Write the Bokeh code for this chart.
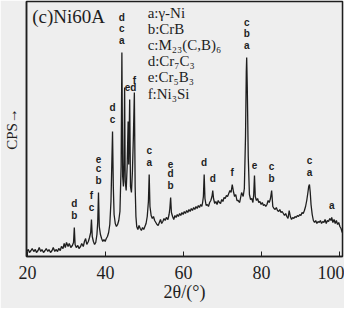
from bokeh.plotting import figure
from bokeh.models import Range1d, FixedTicker
from bokeh.core.properties import value
from bokeh.embed import file_html
from bokeh.resources import INLINE

# ---- data (2theta in degrees, intensity in arbitrary CPS units) ----
two_theta = [
    19.8, 20.2, 20.5, 20.9, 21.2, 21.6, 22.0, 22.3, 22.7, 23.0, 23.4, 23.7, 24.1, 24.5, 24.8,
    25.2, 25.5, 25.9, 26.3, 26.6, 27.0, 27.3, 27.7, 28.0, 28.4, 28.7, 29.1, 29.4, 29.7, 30.0,
    30.4, 30.7, 31.1, 31.5, 31.8, 32.0, 32.2, 32.5, 32.9, 33.2, 33.6, 33.9, 34.3, 34.6, 34.9,
    35.2, 35.6, 35.9, 36.2, 36.4, 36.6, 36.9, 37.2, 37.5, 37.8, 38.0, 38.2, 38.4, 38.7, 39.0,
    39.3, 39.6, 39.9, 40.2, 40.5, 40.8, 41.1, 41.4, 41.6, 41.8, 42.0, 42.2, 42.5, 42.8, 43.1,
    43.4, 43.7, 44.0, 44.2, 44.4, 44.6, 44.75, 44.9, 45.05, 45.3, 45.55, 45.8, 45.95, 46.2, 46.4,
    46.65, 46.9, 47.15, 47.4, 47.6, 47.8, 48.0, 48.3, 48.6, 48.9, 49.2, 49.5, 49.8, 50.1, 50.4,
    50.7, 51.0, 51.2, 51.4, 51.7, 52.0, 52.3, 52.6, 52.9, 53.2, 53.5, 53.8, 54.1, 54.4, 54.7,
    55.0, 55.3, 55.6, 56.0, 56.3, 56.5, 56.7, 56.9, 57.2, 57.5, 57.8, 58.1, 58.4, 58.7, 59.0,
    59.3, 59.6, 59.9, 60.2, 60.5, 60.8, 61.1, 61.4, 61.7, 62.0, 62.3, 62.6, 62.9, 63.2, 63.5,
    63.8, 64.1, 64.4, 64.7, 64.9, 65.1, 65.3, 65.5, 65.8, 66.1, 66.4, 66.7, 67.0, 67.3, 67.5,
    67.7, 68.0, 68.3, 68.6, 68.9, 69.2, 69.5, 69.8, 70.1, 70.4, 70.7, 71.0, 71.3, 71.6, 71.9,
    72.2, 72.5, 72.8, 73.1, 73.4, 73.7, 74.0, 74.4, 74.9, 75.3, 75.6, 75.9, 76.1, 76.2, 76.35,
    76.6, 76.9, 77.2, 77.5, 77.8, 78.0, 78.2, 78.4, 78.7, 79.0, 79.3, 79.6, 79.9, 80.2, 80.5,
    80.8, 81.1, 81.4, 81.7, 82.0, 82.3, 82.6, 82.9, 83.2, 83.5, 83.8, 84.1, 84.4, 84.7, 85.0,
    85.3, 85.6, 85.9, 86.2, 86.5, 86.8, 87.1, 87.4, 87.7, 88.0, 88.3, 88.6, 88.9, 89.2, 89.5,
    89.8, 90.1, 90.4, 90.7, 91.0, 91.3, 91.6, 91.9, 92.1, 92.3, 92.5, 92.7, 93.0, 93.3, 93.6,
    93.9, 94.2, 94.5, 94.8, 95.1, 95.4, 95.7, 96.0, 96.3, 96.6, 96.9, 97.2, 97.5, 97.8, 98.0,
    98.3, 98.6, 98.9, 99.2, 99.5, 99.8, 100.1, 100.4, 100.7,
]
intensity = [
    5, 7, 4, 6, 8, 5, 7, 4, 6, 9, 5, 7, 4, 6, 8,
    5, 7, 4, 6, 9, 5, 7, 5, 8, 6, 10, 8, 13, 9, 14,
    10, 13, 9, 11, 14, 29, 12, 9, 11, 8, 10, 13, 10, 15, 18,
    12, 15, 19, 24, 37, 20, 15, 12, 14, 22, 34, 64, 30, 22, 18,
    15, 17, 15, 18, 20, 24, 32, 55, 90, 125, 70, 42, 33, 30, 32,
    36, 45, 90, 204, 80, 70, 95, 169, 75, 66, 90, 135, 92, 157, 70,
    64, 85, 120, 164, 70, 40, 30, 27, 31, 28, 26, 29, 27, 30, 33,
    40, 55, 82, 50, 41, 38, 40, 36, 34, 32, 31, 34, 37, 33, 35,
    38, 36, 39, 37, 42, 48, 59, 44, 40, 37, 41, 39, 42, 40, 43,
    41, 44, 42, 45, 43, 46, 44, 47, 45, 48, 46, 49, 47, 50, 48,
    51, 49, 52, 50, 54, 60, 82, 58, 51, 52, 50, 54, 56, 60, 66,
    58, 53, 55, 52, 56, 54, 53, 57, 55, 59, 58, 61, 60, 63, 66,
    64, 72, 65, 60, 62, 56, 56, 54, 64, 60, 68, 120, 185, 199, 170,
    100, 62, 57, 58, 54, 62, 81, 60, 56, 58, 54, 55, 52, 54, 51,
    52, 50, 52, 56, 54, 58, 66, 50, 48, 47, 49, 46, 45, 47, 44,
    45, 43, 41, 43, 40, 38, 46, 40, 37, 39, 38, 40, 39, 41, 40,
    42, 41, 44, 43, 46, 50, 56, 64, 70, 72, 64, 52, 42, 36, 34,
    36, 33, 35, 34, 36, 33, 35, 34, 37, 33, 36, 35, 38, 36, 39,
    34, 37, 33, 36, 32, 34, 30, 28, 24,
]

# peak identifications (phase letters, listed top to bottom)
peak_positions = [32.0, 36.4, 38.2, 41.8, 44.2, 46.2, 47.4, 51.2, 56.7, 65.3,
                  67.5, 72.5, 76.2, 78.2, 82.6, 92.3, 98.0]
peak_letters = [["d", "b"], ["f", "c"], ["e", "c", "b"], ["d", "c"], ["d", "c", "a"],
                ["ed"], ["f"], ["c", "a"], ["e", "d", "b"], ["d"],
                ["d"], ["f"], ["c", "b", "a"], ["e"], ["c", "b"], ["c", "a"], ["a"]]

legend_entries = ["a:γ-Ni", "b:CrB", "c:M₂₃(C,B)₆", "d:Cr₇C₃", "e:Cr₅B₃", "f:Ni₃Si"]
panel_title = "(c)Ni60A"
x_ticks = [20, 40, 60, 80, 100]
x_title = "2θ/(°)"
y_title = "CPS→"

# ---- figure ----
BG = "#eeeeee"
INK = "#1e1e1e"
SERIF = "Liberation Serif"

p = figure(width=344, height=308, output_backend="svg", toolbar_location=None,
           x_range=Range1d(19.74, 100.77), y_range=Range1d(0, 255),
           min_border_left=26, min_border_right=2, min_border_top=1, min_border_bottom=52)
p.background_fill_color = BG
p.border_fill_color = BG
p.outline_line_color = INK
p.outline_line_width = 1.5
p.grid.visible = False

p.line(two_theta, intensity, line_color=INK, line_width=1.3)

# peak letters
lx, ly, lt = [], [], []
for pos, letters in zip(peak_positions, peak_letters):
    top = max(v for t, v in zip(two_theta, intensity) if abs(t - pos) <= 0.15)
    y = top + 7
    for letter in reversed(letters):
        lx.append(pos + (0.2 if len(letter) > 1 else 0))
        ly.append(y)
        lt.append(letter)
        y += 11.5
p.text(lx, ly, text=lt, text_font=value("Liberation Sans"), text_font_style="bold",
       text_font_size="10px", text_align="center", text_baseline="bottom", text_color=INK)

# legend list
leg_y = [244 - 16.2 * i for i in range(len(legend_entries))]
p.text([50.8] * len(legend_entries), leg_y, text=legend_entries, text_font=value(SERIF),
       text_font_size="15px", text_align="left", text_baseline="middle", text_color=INK)

# panel title
p.text([21.2], [240], text=[panel_title], text_font=value(SERIF), text_font_size="19px",
       text_align="left", text_baseline="middle", text_color=INK)

# axes
xa = p.xaxis[0]
xa.ticker = FixedTicker(ticks=x_ticks)
xa.minor_tick_line_color = None
xa.major_tick_in = 5
xa.major_tick_out = 0
xa.major_tick_line_color = INK
xa.axis_line_color = INK
xa.axis_line_width = 1.5
xa.major_label_standoff = 9
xa.major_label_text_font = SERIF
xa.major_label_text_font_size = "18px"
xa.major_label_text_color = INK
xa.axis_label = x_title
xa.axis_label_text_font = SERIF
xa.axis_label_text_font_size = "18px"
xa.axis_label_text_font_style = "normal"
xa.axis_label_text_color = INK
xa.axis_label_standoff = 0

ya = p.yaxis[0]
ya.ticker = FixedTicker(ticks=[])
ya.minor_tick_line_color = None
ya.major_tick_line_color = None
ya.axis_line_color = INK
ya.axis_line_width = 1.5
ya.major_label_text_font_size = "0px"
ya.major_label_standoff = 0
ya.axis_label = y_title
ya.axis_label_text_font = SERIF
ya.axis_label_text_font_size = "15px"
ya.axis_label_text_font_style = "normal"
ya.axis_label_text_color = INK
ya.axis_label_standoff = 7

open("out.html", "w").write(file_html(p, INLINE))
